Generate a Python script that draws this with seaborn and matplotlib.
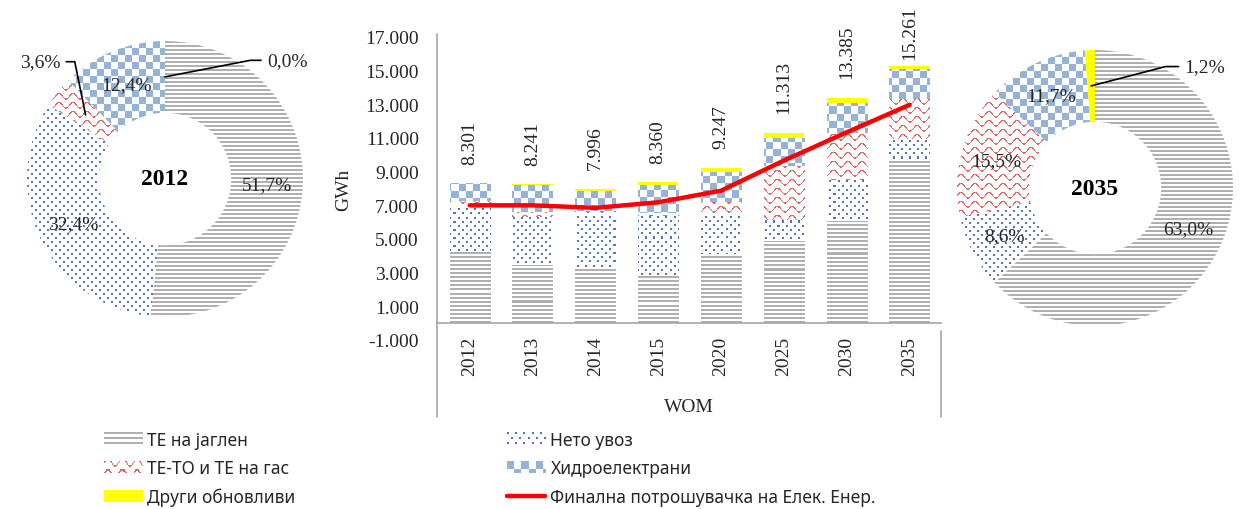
import numpy as np
import pandas as pd
import matplotlib
matplotlib.use('Agg')
import matplotlib.pyplot as plt
import matplotlib.colors as mcolors
import seaborn as sns
from matplotlib.patches import Patch
from matplotlib.lines import Line2D
from matplotlib.legend_handler import HandlerBase
from matplotlib.image import BboxImage
from matplotlib.transforms import Bbox, TransformedBbox

# ---- data (GWh) ----
years = ['2012', '2013', '2014', '2015', '2020', '2025', '2030', '2035']
coal = [4290, 3450, 3310, 2860, 4100, 4900, 6090, 9614]
net_import = [2690, 2850, 3170, 3520, 2380, 1250, 2440, 1312]
gas = [300, 330, 200, 140, 700, 3200, 2770, 2365]
hydro = [1020, 1560, 1190, 1700, 1800, 1650, 1790, 1786]
other_res = [0, 50, 126, 140, 267, 313, 295, 183]
totals = [8301, 8241, 7996, 8360, 9247, 11313, 13385, 15261]
consumption = [7000, 7000, 6850, 7180, 7870, 9660, 11340, 12970]

share_2012 = [51.7, 32.4, 3.6, 12.4, 0.0]
share_2035 = [63.0, 8.6, 15.5, 11.7, 1.2]

labels = ['ТЕ на јаглен', 'Нето увоз', 'ТЕ-ТО и ТЕ на гас', 'Хидроелектрани', 'Други обновливи']
kinds = ['coal', 'import', 'gas', 'hydro', 'other']
line_label = 'Финална потрошувачка на Елек. Енер.'

sns.set_theme(style='white')
plt.rcParams['font.family'] = ['Liberation Serif', 'DejaVu Serif']
SANS = ['Noto Sans', 'DejaVu Sans']
TXT = '#262626'

W, H = 1241, 510
fig = plt.figure(figsize=(W / 100, H / 100), dpi=100)


def px_axes(x0, y0, x1, y1):
    return fig.add_axes([x0 / W, 1 - y1 / H, (x1 - x0) / W, (y1 - y0) / H])


def texture(kind, h, w):
    yy, xx = np.mgrid[0:h, 0:w]
    img = np.ones((h, w, 4))

    def paint(mask, col):
        img[mask, :3] = mcolors.to_rgb(col)

    if kind == 'coal':
        paint(yy % 4 < 2, '#B0B0B0')
    elif kind == 'import':
        shift = ((yy // 4) % 2) * 4
        paint((yy % 4 < 2) & ((xx + shift) % 8 < 2), '#4F75BA')
    elif kind == 'gas':
        d = (yy + 2.8 * np.sin(2 * np.pi * xx / 14)) % 9
        paint(d < 1.5, '#D96B6B')
    elif kind == 'hydro':
        paint(((xx // 7) + (yy // 7)) % 2 == 0, '#95B3D7')
    else:
        paint(np.ones_like(xx, bool), '#FFFF00')
    return img


def add_texture(ax, patch, kind):
    bb = ax.bbox
    img = texture(kind, int(round(bb.height)), int(round(bb.width)))
    im = ax.imshow(img, extent=(*ax.get_xlim(), *ax.get_ylim()), aspect='auto',
                   interpolation='nearest', zorder=patch.get_zorder() + 0.1)
    im.set_clip_path(patch)


# ---- middle: stacked bars + consumption line ----
ax = px_axes(437, 38, 941, 341)
series = [coal, net_import, gas, hydro, other_res]
bottom = np.zeros(len(years))
bar_groups = []
for vals, kind in zip(series, kinds):
    n0 = len(ax.patches)
    sns.barplot(x=years, y=vals, bottom=bottom, ax=ax, width=0.64, saturation=1,
                color='#FFFF00' if kind == 'other' else 'white', linewidth=0)
    bar_groups.append((kind, ax.patches[n0:]))
    bottom = bottom + np.array(vals)

ax.set_xlim(-0.52, len(years) - 0.5)
ax.set_ylim(-1000, 17000)
for kind, patches in bar_groups:
    if kind != 'other':
        for p in patches:
            add_texture(ax, p, kind)

sns.lineplot(x=years, y=consumption, ax=ax, color='#FF0000', linewidth=3.2, zorder=5)
ax.set_xlim(-0.52, len(years) - 0.5)
ax.set_ylim(-1000, 17000)

pads = [14, 14, 14, 14, 14, 14, 14, 5]
for i, (t, pad) in enumerate(zip(totals, pads)):
    ax.annotate(f'{t:,}'.replace(',', '.'), xy=(i, t), xytext=(0, pad),
                textcoords='offset points', rotation=90, ha='center', va='bottom',
                fontsize=14, color=TXT, annotation_clip=False)

yt = np.arange(-1000, 17001, 2000)
ax.set_yticks(yt, [f'{v:,}'.replace(',', '.') for v in yt])
ax.tick_params(axis='y', length=0, pad=13, labelsize=14, labelcolor=TXT)
ax.tick_params(axis='x', length=0, pad=9, labelsize=14, labelcolor=TXT, labelrotation=90)
for s in ['top', 'right', 'left']:
    ax.spines[s].set_visible(False)
ax.spines['bottom'].set_position(('data', 0))
ax.spines['bottom'].set_color('#A6A6A6')
ax.spines['bottom'].set_linewidth(1.2)
ax.add_artist(Line2D([0, 0], [1.01, -0.255], transform=ax.transAxes, color='#A6A6A6',
                     lw=1.2, clip_on=False))
ax.add_artist(Line2D([1.0, 1.0], [0.03, -0.255], transform=ax.transAxes, color='#A6A6A6',
                     lw=1.2, clip_on=False))
ax.set_ylabel('GWh', fontsize=14, color=TXT)
ax.yaxis.set_label_coords((352 - 437) / 504, 0.5)
ax.set_xlabel('WOM', fontsize=14, color=TXT)
ax.xaxis.set_label_coords(0.5, -0.19)
ax.grid(False)


# ---- donuts ----
def donut(ax, shares, title, callouts):
    cols = ['white'] * 4 + ['#FFFF00']
    wedges, _ = ax.pie(shares, startangle=90, counterclock=False, radius=1, colors=cols,
                       wedgeprops=dict(width=0.52, linewidth=0))
    ax.set_xlim(-1, 1)
    ax.set_ylim(-1, 1)
    ax.axis('off')
    for w, kind, s in zip(wedges, kinds, shares):
        if kind != 'other' and s > 0:
            add_texture(ax, w, kind)
    for i, (w, s) in enumerate(zip(wedges, shares)):
        mid = np.deg2rad((w.theta1 + w.theta2) / 2)
        r = 0.74
        pt = (r * np.cos(mid), r * np.sin(mid))
        txt = f'{s:.1f}%'.replace('.', ',')
        if i in callouts:
            tx, ty, ha, angB = callouts[i]
            ax.annotate(txt, xy=pt, xytext=(tx, ty), ha=ha, va='center', fontsize=14,
                        color=TXT, annotation_clip=False,
                        arrowprops=dict(arrowstyle='-', color='black', lw=1.2,
                                        shrinkA=2, shrinkB=0,
                                        relpos=(1, 0.5) if ha == 'right' else (0, 0.5),
                                        connectionstyle=f'angle,angleA=0,angleB={angB}'))
        else:
            ax.text(*pt, txt, ha='center', va='center', fontsize=14, color=TXT, zorder=4)
    ax.text(0, 0, title, ha='center', va='center', fontsize=17, fontweight='bold',
            color='black')


ax1 = px_axes(27, 42, 303, 318)
donut(ax1, share_2012, '2012', {2: (-0.76, 0.85, 'right', 101.5),
                                4: (0.74, 0.86, 'left', 11)})
ax2 = px_axes(957, 51, 1233, 327)
donut(ax2, share_2035, '2035', {4: (0.65, 0.88, 'left', 14.6)})


# ---- legend ----
class TextureHandler(HandlerBase):
    def __init__(self, kind):
        super().__init__()
        self.kind = kind

    def create_artists(self, legend, orig_handle, xdescent, ydescent, width, height,
                       fontsize, trans):
        bb = TransformedBbox(Bbox.from_bounds(-xdescent, -ydescent, width, height), trans)
        img = BboxImage(bb, interpolation='nearest')
        img.set_data(texture(self.kind, 10, 38))
        return [img]


handles = {k: Patch(label=l) for k, l in zip(kinds, labels)}
red = Line2D([], [], color='#FF0000', lw=3.2, label=line_label)
hmap = {handles[k]: TextureHandler(k) for k in kinds}
common = dict(loc='upper left', frameon=False, borderpad=0, borderaxespad=0,
              handlelength=2.2, handleheight=0.6, handletextpad=0.3, labelspacing=0.6,
              prop={'family': SANS, 'size': 12.5}, handler_map=hmap)
left_h = [handles['coal'], handles['gas'], handles['other']]
right_h = [handles['import'], handles['hydro'], red]
leg1 = fig.legend(left_h, [h.get_label() for h in left_h],
                  bbox_to_anchor=(104 / W, 1 - 432 / H), **common)
leg2 = fig.legend(right_h, [h.get_label() for h in right_h],
                  bbox_to_anchor=(507 / W, 1 - 432 / H), **common)

fig.savefig('out.png', dpi=100)
